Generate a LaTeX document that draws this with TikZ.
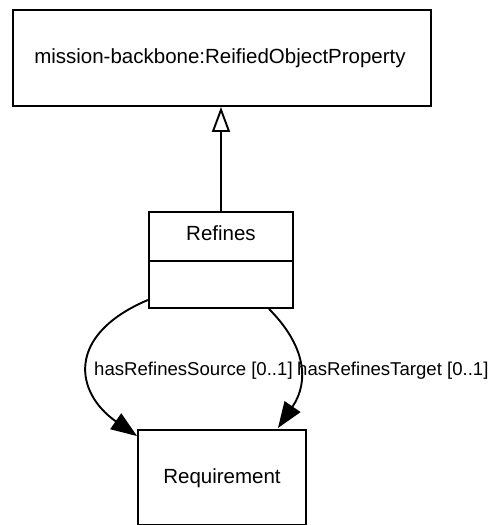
\documentclass[tikz,border=0pt]{standalone}
\usepackage{fontspec}
\setmainfont{Liberation Sans}
\usetikzlibrary{arrows.meta}
\newcommand{\nodefnt}{\fontsize{20.5}{24}\selectfont}
\newcommand{\edgefnt}{\fontsize{18.6}{22}\selectfont}
\begin{document}
\begin{tikzpicture}[x=1pt,y=-1pt,
  box/.style={draw,line width=1.9pt,inner sep=0pt},
  txt/.style={anchor=base,inner sep=0pt,font=\nodefnt},
  elabel/.style={anchor=base west,inner sep=0pt,font=\edgefnt},
  assoc/.style={line width=1.9pt,-{Triangle[length=26pt,width=19pt]}},
  gen/.style={line width=1.9pt,-{Triangle[open,length=25pt,width=18pt,fill=white]}}]
\useasboundingbox (0,0) rectangle (498,525);
\begin{scope}
\clip (0,0) rectangle (498,525);
\node[box,minimum width=418pt,minimum height=96pt] (rop) at (222,58) {};
\node[txt] (ropt) at (220,63) {mission-backbone:ReifiedObjectProperty};
\node[box,minimum width=144pt,minimum height=96pt] (ref) at (221,260) {};
\node[txt] (reft) at (221,240) {Refines};
\draw[line width=1.9pt] (ref.west |- 0,261) -- (ref.east |- 0,261);
\node[box,minimum width=168pt,minimum height=95pt] (req) at (222,477.5) {};
\node[txt] (reqt) at (222,483) {Requirement};
\draw[gen] (ref.north) -- (ref.north |- rop.south);
\draw[assoc] ([yshift=9pt]ref.south west) .. controls (65,335) and (75,393) .. ([yshift=-7pt]req.north west);
\draw[assoc] ([xshift=-25pt]ref.south east) .. controls (305,345) and (310,381) .. ([xshift=-29pt,yshift=1pt]req.north east);
\node[elabel] (l1) at (94,375) {hasRefinesSource [0..1]};
\node[elabel] (l2) at (297,375) {hasRefinesTarget [0..1]};
\end{scope}
\end{tikzpicture}
\end{document}
